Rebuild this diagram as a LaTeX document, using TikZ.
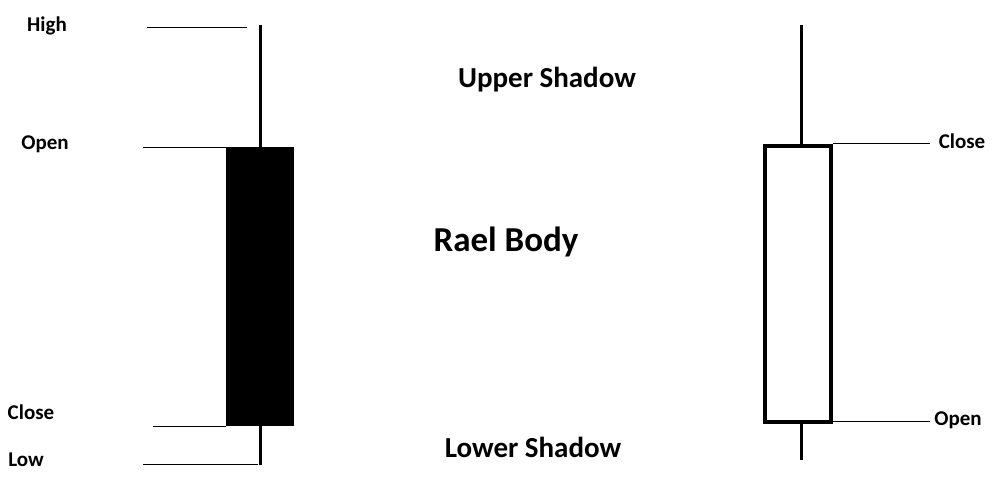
\documentclass[tikz,border=0pt]{standalone}
\usepackage{fontspec}
\setmainfont{Carlito}
\begin{document}
\begin{tikzpicture}[x=1pt,y=-1pt,
  lbl/.style={font=\bfseries\fontsize{21}{24}\selectfont},
  guide/.style={line width=0.8pt},
  wick/.style={line width=3pt}]
\useasboundingbox (0,0) rectangle (995,495);
% left candle
\draw[wick] (260,25) -- (260,465);
\node[fill=black,minimum width=68pt,minimum height=279pt,inner sep=0] (lb) at (260,286.5) {};
\coordinate (h1) at (147,27); \coordinate (h2) at (247,27);
\draw[guide] (h1) -- (h2);
\coordinate (o1) at (143,147); \draw[guide] (o1) -- (o1 -| lb.west);
\coordinate (c1) at (153,426); \draw[guide] (c1) -- (c1 -| lb.west);
\coordinate (l1) at (143,464); \coordinate (l2) at (258,464); \draw[guide] (l1) -- (l2);
\node[lbl] (th) at (47,26) {High};
\node[lbl] (to) at (45,144) {Open};
\node[lbl] (tc) at (31,412) {Close};
\node[lbl] (tl) at (26,460) {Low};
% right candle
\node[draw,line width=3.5pt,minimum width=66pt,minimum height=276pt,inner sep=0] (rb) at (798,284) {};
\coordinate (rw1) at (801,25); \coordinate (rw2) at (801,460);
\draw[wick] (rw1) -- (rw1 |- rb.north);
\draw[wick] (rw2) -- (rw2 |- rb.south);
\coordinate (rc) at (930,143); \draw[guide] (rc -| rb.east) -- (rc);
\coordinate (ro) at (930,421); \draw[guide] (ro -| rb.east) -- (ro);
\node[lbl] (trc) at (962,141) {Close};
\node[lbl] (tro) at (958,420) {Open};
% center labels
\node[font=\bfseries\fontsize{29}{34}\selectfont] (us) at (547,80) {Upper Shadow};
\node[font=\bfseries\fontsize{35}{40}\selectfont] (rbody) at (506,242) {Rael Body};
\node[font=\bfseries\fontsize{29}{34}\selectfont] (ls) at (533,447) {Lower Shadow};
\end{tikzpicture}
\end{document}
